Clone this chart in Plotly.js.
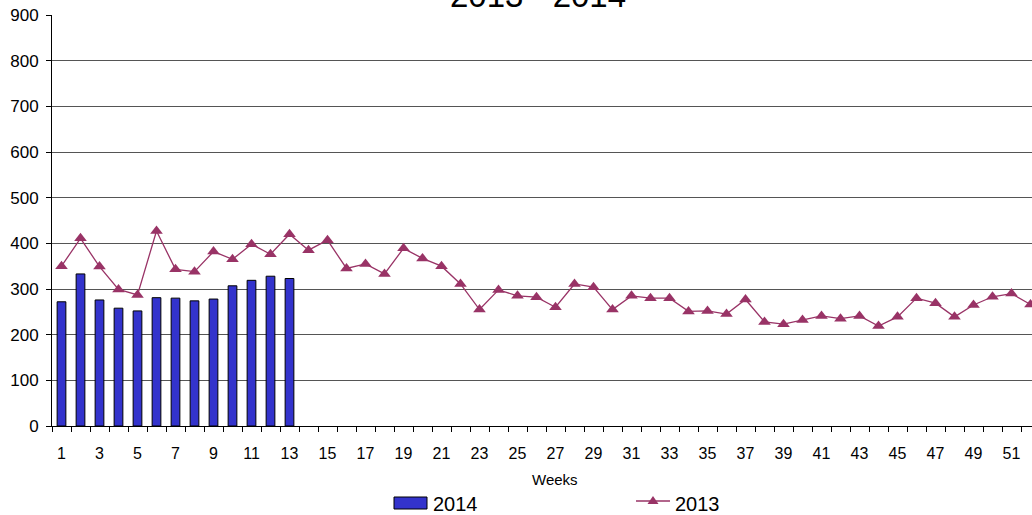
<!DOCTYPE html>
<html>
<head>
<meta charset="utf-8">
<script src="https://cdn.plot.ly/plotly-3.0.1.min.js"></script>
<style>html,body{margin:0;padding:0;background:#fff;}#chart{width:1032px;height:515px;}</style>
</head>
<body>
<div id="chart"></div>
<script>
// ---- data ----
const weeks = [1,2,3,4,5,6,7,8,9,10,11,12,13,14,15,16,17,18,19,20,21,22,23,24,25,26,
               27,28,29,30,31,32,33,34,35,36,37,38,39,40,41,42,43,44,45,46,47,48,49,50,51,52];
const weeks2014 = [1,2,3,4,5,6,7,8,9,10,11,12,13];
const values2014 = [272,333,276,258,252,281,280,274,278,307,319,328,323];
const values2013 = [350,411,349,299,287,427,343,338,382,365,398,376,420,385,407,345,355,333,389,367,
                    350,311,255,298,285,282,260,311,304,255,285,280,280,251,252,245,277,228,223,232,
                    241,235,241,219,239,280,269,239,265,283,290,266];
const tickWeeks = [1,3,5,7,9,11,13,15,17,19,21,23,25,27,29,31,33,35,37,39,41,43,45,47,49,51];
const tickLabels = ['1','3','5','7','9','11','13','15','17','19','21','23','25','27','29','31','33',
                    '35','37','39','41','43','45','47','49','51'];
const yTicks = [0,100,200,300,400,500,600,700,800,900];
const seriesNames = ['2014','2013'];
const chartTitle = '2013 - 2014';
const xTitle = 'Weeks';

// ---- layout helpers (pixel -> paper) ----
const W = 1032, H = 515, ML = 52, MR = 0, MT = 15, MB = 89;
const PW = W - ML - MR, PH = H - MT - MB;
const px = v => (v - ML) / PW;
const py = v => (H - MB - v) / PH;

const FONT = 'Liberation Sans, Arial, sans-serif';
const barColor = '#3333cc';
const lineColor = '#993366';

const traces = [
  {
    type: 'bar', name: seriesNames[0], x: weeks2014, y: values2014, width: 0.46,
    marker: {color: barColor, line: {color: '#000', width: 1}},
    showlegend: false, hoverinfo: 'x+y'
  },
  {
    type: 'scatter', mode: 'lines+markers', name: seriesNames[1], x: weeks, y: values2013,
    line: {color: lineColor, width: 1.3},
    marker: {symbol: 'triangle-up', size: 11, color: lineColor},
    showlegend: false, cliponaxis: true
  }
];

const layout = {
  width: W, height: H,
  margin: {l: ML, r: MR, t: MT, b: MB, pad: 0},
  paper_bgcolor: '#fff', plot_bgcolor: '#fff',
  font: {family: FONT, color: '#000'},
  title: {
    text: chartTitle, font: {family: FONT, size: 33, color: '#000'},
    xref: 'container', x: 538 / W, xanchor: 'center',
    yref: 'paper', y: 1, yanchor: 'bottom', pad: {b: 8}
  },
  xaxis: {
    range: [0.5, 0.5 + PW / 19],
    tickmode: 'array', tickvals: tickWeeks, ticktext: tickLabels,
    ticks: 'outside', ticklen: 5, tickcolor: 'rgba(0,0,0,0)',
    ticklabelstandoff: 8,
    minor: {tickmode: 'linear', tick0: 0.5, dtick: 1, ticks: 'outside', ticklen: 5,
            tickcolor: '#000', tickwidth: 1, showgrid: false},
    showgrid: false, zeroline: false,
    showline: true, linecolor: '#000', linewidth: 1,
    tickfont: {family: FONT, size: 16, color: '#000'},
    fixedrange: true
  },
  yaxis: {
    range: [0, 900], tickmode: 'array', tickvals: yTicks,
    showgrid: true, gridcolor: '#555', gridwidth: 1,
    zeroline: false, showline: true, linecolor: '#000', linewidth: 1,
    ticks: 'outside', ticklen: 5, tickcolor: '#000',
    ticklabelstandoff: 4,
    tickfont: {family: FONT, size: 17, color: '#000'},
    fixedrange: true
  },
  annotations: [
    {text: xTitle, xref: 'paper', yref: 'paper', x: px(555), y: py(479),
     xanchor: 'center', yanchor: 'middle', showarrow: false,
     font: {family: FONT, size: 15, color: '#000'}},
    {text: seriesNames[0], xref: 'paper', yref: 'paper', x: px(431), y: py(504),
     xanchor: 'left', yanchor: 'middle', showarrow: false,
     font: {family: FONT, size: 20, color: '#000'}},
    {text: seriesNames[1], xref: 'paper', yref: 'paper', x: px(673), y: py(504),
     xanchor: 'left', yanchor: 'middle', showarrow: false,
     font: {family: FONT, size: 20, color: '#000'}}
  ],
  shapes: [
    {type: 'rect', xref: 'paper', yref: 'paper', x0: px(394), x1: px(427), y0: py(509), y1: py(497),
     fillcolor: barColor, line: {color: '#000', width: 1}},
    {type: 'line', xref: 'paper', yref: 'paper', x0: px(636), x1: px(670), y0: py(501), y1: py(501),
     line: {color: lineColor, width: 1.3}},
    {type: 'path', xref: 'paper', yref: 'paper', xsizemode: 'pixel', ysizemode: 'pixel',
     xanchor: px(653), yanchor: py(501),
     path: 'M-5.5,-3 L5.5,-3 L0,5 Z', fillcolor: lineColor, line: {color: lineColor, width: 0}}
  ]
};

Plotly.newPlot('chart', traces, layout, {displayModeBar: false, staticPlot: true});
</script>
</body>
</html>
